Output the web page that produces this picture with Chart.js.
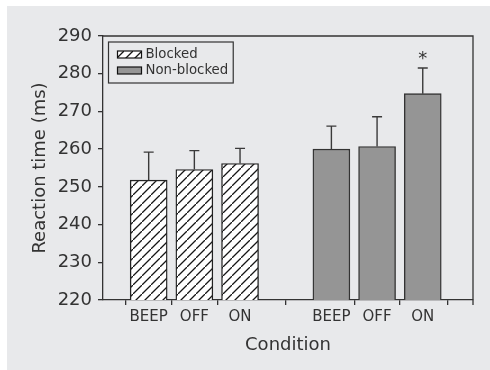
<!DOCTYPE html>
<html>
<head>
<meta charset="utf-8">
<script src="https://cdn.jsdelivr.net/npm/chart.js@4.4.0/dist/chart.umd.min.js"></script>
<style>
  body { margin: 0; background: #ffffff; }
  #wrap { position: absolute; left: 7px; top: 6px; width: 483px; height: 364px; background: #e8e9eb; }
</style>
</head>
<body>
<div id="wrap"><canvas id="chart" width="483" height="364"></canvas></div>
<script>
// data
const conditions = ['BEEP', 'OFF', 'ON'];
const groups = ['Blocked', 'Non-blocked'];
const blockedRT = [251.8, 254.6, 256.2];
const blockedSE = [7.4, 5.0, 4.0];
const nonBlockedRT = [260.0, 260.7, 274.7];
const nonBlockedSE = [6.1, 7.9, 6.8];
const blockedX = [1, 2, 3];
const nonBlockedX = [5, 6, 7];
const yTicks = [220, 230, 240, 250, 260, 270, 280, 290];
const starIndex = 2; // Non-blocked ON is significant

const FONT = '"DejaVu Sans", "Liberation Sans", Arial, sans-serif';
const INK = '#333333';

// hatch pattern for the blocked bars
function makeHatch() {
  const n = 9;
  const c = document.createElement('canvas');
  c.width = n; c.height = n;
  const g = c.getContext('2d');
  g.fillStyle = '#ffffff';
  g.fillRect(0, 0, n, n);
  g.strokeStyle = '#161616';
  g.lineWidth = 1.3;
  g.beginPath();
  g.moveTo(-1, n + 1); g.lineTo(n + 1, -1);
  g.moveTo(-n - 1, 1); g.lineTo(1, -n - 1);
  g.moveTo(n - 1, 2 * n + 1); g.lineTo(2 * n + 1, n - 1);
  g.stroke();
  return g.createPattern(c, 'repeat');
}
const hatch = makeHatch();
const grayFill = '#959595';

// labels for x ticks
const xLabelAt = {};
blockedX.forEach((x, i) => xLabelAt[x] = conditions[i]);
nonBlockedX.forEach((x, i) => xLabelAt[x] = conditions[i]);

const errorBars = {
  id: 'errorBars',
  afterDatasetsDraw(chart) {
    const ctx = chart.ctx;
    const y = chart.scales.y;
    const errs = [blockedSE, nonBlockedSE];
    ctx.save();
    ctx.strokeStyle = '#3a3a3a';
    ctx.lineWidth = 1.4;
    chart.data.datasets.forEach((ds, d) => {
      chart.getDatasetMeta(d).data.forEach((bar, i) => {
        const top = y.getPixelForValue(ds.data[i].y + errs[d][i]);
        ctx.beginPath();
        ctx.moveTo(bar.x, bar.y);
        ctx.lineTo(bar.x, top);
        ctx.moveTo(bar.x - 5, top);
        ctx.lineTo(bar.x + 5, top);
        ctx.stroke();
        if (d === 1 && i === starIndex) {
          ctx.fillStyle = INK;
          ctx.font = '18px ' + FONT;
          ctx.textAlign = 'center';
          ctx.textBaseline = 'middle';
          ctx.fillText('*', bar.x, top - 9);
        }
      });
    });
    ctx.restore();
  }
};

const frameAndLegend = {
  id: 'frameAndLegend',
  afterDraw(chart) {
    const ctx = chart.ctx;
    const a = chart.chartArea;
    ctx.save();
    // top and right frame
    ctx.strokeStyle = INK;
    ctx.lineWidth = 1.3;
    ctx.beginPath();
    ctx.moveTo(a.left, a.top);
    ctx.lineTo(a.right, a.top);
    ctx.lineTo(a.right, a.bottom + 5);
    ctx.stroke();

    // legend box
    ctx.font = '13.3px ' + FONT;
    const bx = a.left + 5.5, by = a.top + 6;
    const tw = Math.max(...groups.map(g => ctx.measureText(g).width));
    const bw = 9 + 24 + 4 + tw + 5, bh = 41;
    ctx.lineWidth = 1.2;
    ctx.strokeRect(bx, by, bw, bh);
    chart.data.datasets.forEach((ds, i) => {
      const sy = by + 9 + i * 16;
      ctx.fillStyle = ds.backgroundColor;
      ctx.fillRect(bx + 9, sy, 24, 7);
      ctx.strokeStyle = '#111111';
      ctx.lineWidth = 1.2;
      ctx.strokeRect(bx + 9, sy, 24, 7);
      ctx.fillStyle = INK;
      ctx.textAlign = 'left';
      ctx.textBaseline = 'middle';
      ctx.fillText(ds.label, bx + 37, sy + 3.5);
    });
    ctx.restore();
  }
};

new Chart(document.getElementById('chart'), {
  type: 'bar',
  data: {
    datasets: [
      {
        label: groups[0],
        data: blockedRT.map((v, i) => ({ x: blockedX[i], y: v })),
        backgroundColor: hatch,
        borderColor: '#222222',
        borderWidth: 1.4,
        grouped: false,
        barThickness: 37
      },
      {
        label: groups[1],
        data: nonBlockedRT.map((v, i) => ({ x: nonBlockedX[i], y: v })),
        backgroundColor: grayFill,
        borderColor: '#333333',
        borderWidth: 1.4,
        grouped: false,
        barThickness: 37
      }
    ]
  },
  options: {
    responsive: false,
    animation: false,
    devicePixelRatio: 1,
    layout: { padding: { top: 30, right: 17, left: 0, bottom: 0 } },
    plugins: { legend: { display: false }, tooltip: { enabled: false } },
    scales: {
      x: {
        type: 'linear',
        min: 0,
        max: 8.1,
        offset: false,
        afterBuildTicks: (scale) => {
          scale.ticks = [0, ...blockedX, ...nonBlockedX, 8.1].map(v => ({ value: v }));
        },
        afterFit: (scale) => { scale.height = 70; },
        ticks: {
          autoSkip: false,
          maxRotation: 0,
          padding: 3,
          color: INK,
          font: { family: FONT, size: 15 },
          callback: (v) => xLabelAt[v] || ''
        },
        grid: { drawOnChartArea: false, drawTicks: true, tickLength: 5, color: INK, lineWidth: 1.3 },
        border: { color: INK, width: 1.3 },
        title: {
          display: true,
          text: 'Condition',
          color: INK,
          font: { family: FONT, size: 18 },
          padding: { top: 0, bottom: 14 }
        }
      },
      y: {
        min: 220,
        max: 290,
        afterBuildTicks: (scale) => {
          scale.ticks = yTicks.map(v => ({ value: v }));
        },
        afterFit: (scale) => { scale.width = 96; },
        ticks: {
          padding: 6,
          color: INK,
          font: { family: FONT, size: 18 }
        },
        grid: { drawOnChartArea: false, drawTicks: true, tickLength: 5, color: INK, lineWidth: 1.3 },
        border: { color: INK, width: 1.3 },
        title: {
          display: true,
          text: 'Reaction time (ms)',
          color: INK,
          font: { family: FONT, size: 18 },
          padding: { top: 23, bottom: 0 }
        }
      }
    }
  },
  plugins: [errorBars, frameAndLegend]
});
</script>
</body>
</html>
